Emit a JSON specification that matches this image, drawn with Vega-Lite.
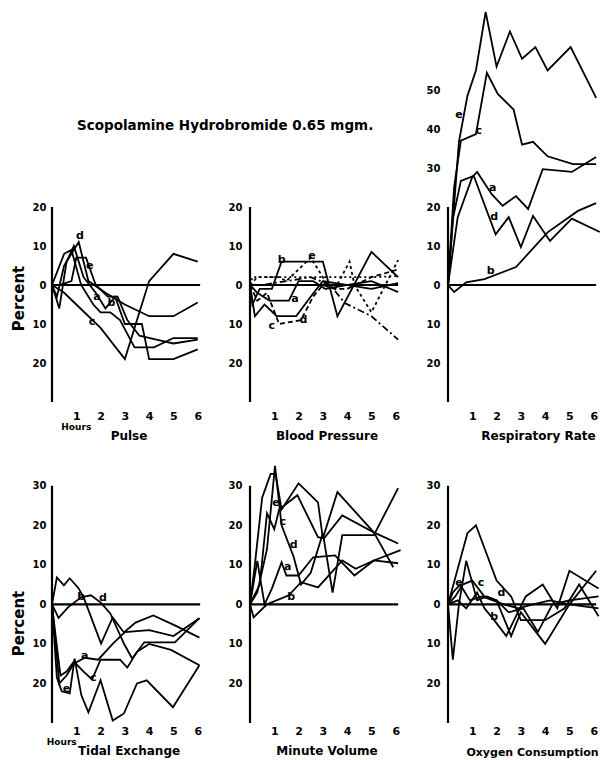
{
 "$schema": "https://vega.github.io/schema/vega-lite/v6.json",
 "background": "white",
 "padding": {"left": 11, "top": 8, "right": 2, "bottom": 2},
 "title": {"text": "Scopolamine Hydrobromide 0.65 mgm.", "anchor": "start", "offset": -124, "dx": 66, "fontSize": 13.5, "font": "DejaVu Sans", "fontWeight": "bold", "color": "black"},
 "config": {
  "view": {"stroke": null},
  "axis": {"labelFont": "DejaVu Sans", "titleFont": "DejaVu Sans", "labelColor": "black", "titleColor": "black", "labelFontWeight": "bold", "titleFontWeight": "bold", "ticks": false, "domain": false, "grid": false, "labelOverlap": false},
  "axisX": {"format": ".0f"},
  "text": {"font": "DejaVu Sans", "fontWeight": "bold", "color": "black"}
 },
 "datasets": {
  "lines": [
   {"panel":"Pulse","series":"a","hour":0,"value":0},{"panel":"Pulse","series":"a","hour":0.3,"value":-6},{"panel":"Pulse","series":"a","hour":0.6,"value":6},{"panel":"Pulse","series":"a","hour":0.9,"value":10},{"panel":"Pulse","series":"a","hour":1.3,"value":2},{"panel":"Pulse","series":"a","hour":1.8,"value":-2},{"panel":"Pulse","series":"a","hour":2.2,"value":-6},{"panel":"Pulse","series":"a","hour":2.6,"value":-3},{"panel":"Pulse","series":"a","hour":3,"value":-10},{"panel":"Pulse","series":"a","hour":3.7,"value":-10},{"panel":"Pulse","series":"a","hour":4,"value":-19},{"panel":"Pulse","series":"a","hour":5,"value":-19},{"panel":"Pulse","series":"a","hour":6,"value":-16.5},
   {"panel":"Pulse","series":"b","hour":0,"value":0},{"panel":"Pulse","series":"b","hour":0.5,"value":8},{"panel":"Pulse","series":"b","hour":0.8,"value":9},{"panel":"Pulse","series":"b","hour":1.2,"value":0},{"panel":"Pulse","series":"b","hour":1.7,"value":-5},{"panel":"Pulse","series":"b","hour":2,"value":-7},{"panel":"Pulse","series":"b","hour":2.4,"value":-7},{"panel":"Pulse","series":"b","hour":2.8,"value":-9},{"panel":"Pulse","series":"b","hour":3.4,"value":-16},{"panel":"Pulse","series":"b","hour":4.2,"value":-16},{"panel":"Pulse","series":"b","hour":5,"value":-13.6},{"panel":"Pulse","series":"b","hour":6,"value":-13.6},
   {"panel":"Pulse","series":"c","hour":0,"value":0},{"panel":"Pulse","series":"c","hour":0.5,"value":-2},{"panel":"Pulse","series":"c","hour":1,"value":-5},{"panel":"Pulse","series":"c","hour":2,"value":-11},{"panel":"Pulse","series":"c","hour":3,"value":-19},{"panel":"Pulse","series":"c","hour":4,"value":1},{"panel":"Pulse","series":"c","hour":5,"value":8},{"panel":"Pulse","series":"c","hour":6,"value":6},
   {"panel":"Pulse","series":"d","hour":0,"value":0},{"panel":"Pulse","series":"d","hour":0.2,"value":-3},{"panel":"Pulse","series":"d","hour":0.5,"value":5},{"panel":"Pulse","series":"d","hour":1.1,"value":11},{"panel":"Pulse","series":"d","hour":1.5,"value":1},{"panel":"Pulse","series":"d","hour":2.2,"value":-2},{"panel":"Pulse","series":"d","hour":3,"value":-5},{"panel":"Pulse","series":"d","hour":4,"value":-8},{"panel":"Pulse","series":"d","hour":5,"value":-8},{"panel":"Pulse","series":"d","hour":6,"value":-4.5},
   {"panel":"Pulse","series":"e","hour":0,"value":0},{"panel":"Pulse","series":"e","hour":0.3,"value":0},{"panel":"Pulse","series":"e","hour":0.8,"value":1},{"panel":"Pulse","series":"e","hour":1.0,"value":7},{"panel":"Pulse","series":"e","hour":1.4,"value":7},{"panel":"Pulse","series":"e","hour":1.8,"value":0},{"panel":"Pulse","series":"e","hour":2.3,"value":-3},{"panel":"Pulse","series":"e","hour":2.7,"value":-3},{"panel":"Pulse","series":"e","hour":3.1,"value":-9},{"panel":"Pulse","series":"e","hour":3.6,"value":-13},{"panel":"Pulse","series":"e","hour":4.3,"value":-14},{"panel":"Pulse","series":"e","hour":5,"value":-15},{"panel":"Pulse","series":"e","hour":6,"value":-14},

   {"panel":"BP","series":"a","hour":0,"value":0},{"panel":"BP","series":"a","hour":0.1,"value":-5},{"panel":"BP","series":"a","hour":0.4,"value":-1},{"panel":"BP","series":"a","hour":0.9,"value":-1},{"panel":"BP","series":"a","hour":1.3,"value":6},{"panel":"BP","series":"a","hour":2.0,"value":6},{"panel":"BP","series":"a","hour":3.0,"value":6},{"panel":"BP","series":"a","hour":3.6,"value":-8},{"panel":"BP","series":"a","hour":5.0,"value":8.5},{"panel":"BP","series":"a","hour":6.1,"value":2},
   {"panel":"BP","series":"b","hour":0,"value":0},{"panel":"BP","series":"b","hour":0.3,"value":-2},{"panel":"BP","series":"b","hour":0.8,"value":-4},{"panel":"BP","series":"b","hour":1.6,"value":-4},{"panel":"BP","series":"b","hour":2.0,"value":1},{"panel":"BP","series":"b","hour":2.6,"value":1},{"panel":"BP","series":"b","hour":3.1,"value":-1},{"panel":"BP","series":"b","hour":4.0,"value":0},{"panel":"BP","series":"b","hour":5.0,"value":-1},{"panel":"BP","series":"b","hour":6.1,"value":0.5},
   {"panel":"BP","series":"c","hour":0,"value":0},{"panel":"BP","series":"c","hour":0.2,"value":-8},{"panel":"BP","series":"c","hour":0.6,"value":-5},{"panel":"BP","series":"c","hour":1.1,"value":-8},{"panel":"BP","series":"c","hour":1.9,"value":-8},{"panel":"BP","series":"c","hour":2.5,"value":-3},{"panel":"BP","series":"c","hour":3.0,"value":1},{"panel":"BP","series":"c","hour":4.0,"value":0},{"panel":"BP","series":"c","hour":5.0,"value":1},{"panel":"BP","series":"c","hour":6.1,"value":-1.8},
   {"panel":"BP","series":"d","hour":0,"value":0},{"panel":"BP","series":"d","hour":0.3,"value":-4},{"panel":"BP","series":"d","hour":0.7,"value":-2},{"panel":"BP","series":"d","hour":1.2,"value":-10},{"panel":"BP","series":"d","hour":2.1,"value":-9},{"panel":"BP","series":"d","hour":2.6,"value":-3},{"panel":"BP","series":"d","hour":3.0,"value":0},{"panel":"BP","series":"d","hour":3.5,"value":-1},{"panel":"BP","series":"d","hour":4.0,"value":-1},{"panel":"BP","series":"d","hour":5.0,"value":2},{"panel":"BP","series":"d","hour":6.1,"value":4},
   {"panel":"BP","series":"e","hour":0,"value":0},{"panel":"BP","series":"e","hour":0.3,"value":2},{"panel":"BP","series":"e","hour":1.2,"value":2},{"panel":"BP","series":"e","hour":1.5,"value":1},{"panel":"BP","series":"e","hour":2.5,"value":7},{"panel":"BP","series":"e","hour":3.1,"value":1},{"panel":"BP","series":"e","hour":3.5,"value":-1},{"panel":"BP","series":"e","hour":4.1,"value":6},{"panel":"BP","series":"e","hour":4.3,"value":0},{"panel":"BP","series":"e","hour":5.0,"value":-7},{"panel":"BP","series":"e","hour":6.1,"value":6.4},
   {"panel":"BP","series":"f","hour":0,"value":0},{"panel":"BP","series":"f","hour":0.5,"value":0},{"panel":"BP","series":"f","hour":1.5,"value":1},{"panel":"BP","series":"f","hour":2.5,"value":2},{"panel":"BP","series":"f","hour":3.3,"value":0},{"panel":"BP","series":"f","hour":3.9,"value":-4.6},{"panel":"BP","series":"f","hour":5.0,"value":-8},{"panel":"BP","series":"f","hour":6.1,"value":-14},
   {"panel":"BP","series":"g","hour":0,"value":0},{"panel":"BP","series":"g","hour":0.1,"value":2},{"panel":"BP","series":"g","hour":1.0,"value":2},{"panel":"BP","series":"g","hour":2.0,"value":2},{"panel":"BP","series":"g","hour":3.0,"value":2},{"panel":"BP","series":"g","hour":4.0,"value":2},{"panel":"BP","series":"g","hour":5.0,"value":2},{"panel":"BP","series":"g","hour":6.1,"value":2.3},

   {"panel":"Resp","series":"e","hour":0,"value":0},{"panel":"Resp","series":"e","hour":0.45,"value":36.7},{"panel":"Resp","series":"e","hour":0.8,"value":48.5},{"panel":"Resp","series":"e","hour":1.15,"value":55},{"panel":"Resp","series":"e","hour":1.55,"value":70},{"panel":"Resp","series":"e","hour":2.0,"value":56},{"panel":"Resp","series":"e","hour":2.55,"value":65},{"panel":"Resp","series":"e","hour":3.05,"value":58},{"panel":"Resp","series":"e","hour":3.6,"value":61},{"panel":"Resp","series":"e","hour":4.1,"value":55},{"panel":"Resp","series":"e","hour":5.05,"value":61},{"panel":"Resp","series":"e","hour":6.1,"value":48},
   {"panel":"Resp","series":"c","hour":0,"value":0},{"panel":"Resp","series":"c","hour":0.25,"value":25},{"panel":"Resp","series":"c","hour":0.53,"value":37},{"panel":"Resp","series":"c","hour":1.15,"value":38.7},{"panel":"Resp","series":"c","hour":1.6,"value":54.4},{"panel":"Resp","series":"c","hour":2.05,"value":49},{"panel":"Resp","series":"c","hour":2.7,"value":45},{"panel":"Resp","series":"c","hour":3.05,"value":36},{"panel":"Resp","series":"c","hour":3.5,"value":36.7},{"panel":"Resp","series":"c","hour":4.1,"value":33},{"panel":"Resp","series":"c","hour":5.15,"value":31},{"panel":"Resp","series":"c","hour":6.1,"value":31},
   {"panel":"Resp","series":"a","hour":0,"value":0},{"panel":"Resp","series":"a","hour":0.4,"value":17.4},{"panel":"Resp","series":"a","hour":1.0,"value":27.7},{"panel":"Resp","series":"a","hour":1.2,"value":29},{"panel":"Resp","series":"a","hour":1.8,"value":23.3},{"panel":"Resp","series":"a","hour":2.25,"value":20.3},{"panel":"Resp","series":"a","hour":2.8,"value":22.8},{"panel":"Resp","series":"a","hour":3.3,"value":19.5},{"panel":"Resp","series":"a","hour":3.9,"value":29.7},{"panel":"Resp","series":"a","hour":5.1,"value":29},{"panel":"Resp","series":"a","hour":6.1,"value":32.8},
   {"panel":"Resp","series":"d","hour":0,"value":0},{"panel":"Resp","series":"d","hour":0.2,"value":17},{"panel":"Resp","series":"d","hour":0.53,"value":26.7},{"panel":"Resp","series":"d","hour":1.06,"value":28},{"panel":"Resp","series":"d","hour":1.96,"value":13},{"panel":"Resp","series":"d","hour":2.5,"value":17.4},{"panel":"Resp","series":"d","hour":3.0,"value":9.7},{"panel":"Resp","series":"d","hour":3.5,"value":17.7},{"panel":"Resp","series":"d","hour":4.2,"value":11.3},{"panel":"Resp","series":"d","hour":5.1,"value":17},{"panel":"Resp","series":"d","hour":6.25,"value":13.6},
   {"panel":"Resp","series":"b","hour":0,"value":0},{"panel":"Resp","series":"b","hour":0.25,"value":-1.8},{"panel":"Resp","series":"b","hour":0.75,"value":0.7},{"panel":"Resp","series":"b","hour":1.5,"value":1.5},{"panel":"Resp","series":"b","hour":2.8,"value":4.6},{"panel":"Resp","series":"b","hour":4.1,"value":13.5},{"panel":"Resp","series":"b","hour":5.35,"value":19},{"panel":"Resp","series":"b","hour":6.1,"value":21},

   {"panel":"Tidal","series":"a","hour":0,"value":0},{"panel":"Tidal","series":"a","hour":0.3,"value":-20},{"panel":"Tidal","series":"a","hour":0.6,"value":-18},{"panel":"Tidal","series":"a","hour":0.9,"value":-15},{"panel":"Tidal","series":"a","hour":1.35,"value":-13.5},{"panel":"Tidal","series":"a","hour":1.9,"value":-14},{"panel":"Tidal","series":"a","hour":2.5,"value":-10},{"panel":"Tidal","series":"a","hour":3.0,"value":-7},{"panel":"Tidal","series":"a","hour":4.0,"value":-6.5},{"panel":"Tidal","series":"a","hour":5.0,"value":-8},{"panel":"Tidal","series":"a","hour":6.07,"value":-3.5},
   {"panel":"Tidal","series":"b","hour":0,"value":0},{"panel":"Tidal","series":"b","hour":0.2,"value":6.8},{"panel":"Tidal","series":"b","hour":0.49,"value":4.8},{"panel":"Tidal","series":"b","hour":0.73,"value":6.6},{"panel":"Tidal","series":"b","hour":1.09,"value":4.1},{"panel":"Tidal","series":"b","hour":1.3,"value":1.8},{"panel":"Tidal","series":"b","hour":2.02,"value":-9.9},{"panel":"Tidal","series":"b","hour":2.5,"value":-3.3},{"panel":"Tidal","series":"b","hour":2.96,"value":-7.1},{"panel":"Tidal","series":"b","hour":3.44,"value":-4.6},{"panel":"Tidal","series":"b","hour":4.17,"value":-2.8},{"panel":"Tidal","series":"b","hour":5.06,"value":-5.3},{"panel":"Tidal","series":"b","hour":6.07,"value":-8.4},
   {"panel":"Tidal","series":"c","hour":0,"value":0},{"panel":"Tidal","series":"c","hour":0.15,"value":-8},{"panel":"Tidal","series":"c","hour":0.35,"value":-18},{"panel":"Tidal","series":"c","hour":0.6,"value":-17},{"panel":"Tidal","series":"c","hour":0.9,"value":-14.5},{"panel":"Tidal","series":"c","hour":1.3,"value":-17},{"panel":"Tidal","series":"c","hour":1.65,"value":-19},{"panel":"Tidal","series":"c","hour":2.0,"value":-14},{"panel":"Tidal","series":"c","hour":2.8,"value":-14},{"panel":"Tidal","series":"c","hour":3.1,"value":-16},{"panel":"Tidal","series":"c","hour":3.5,"value":-12},{"panel":"Tidal","series":"c","hour":4.0,"value":-10},{"panel":"Tidal","series":"c","hour":4.9,"value":-11.5},{"panel":"Tidal","series":"c","hour":6.07,"value":-15.4},
   {"panel":"Tidal","series":"d","hour":0,"value":0},{"panel":"Tidal","series":"d","hour":0.27,"value":-3.4},{"panel":"Tidal","series":"d","hour":0.67,"value":-0.7},{"panel":"Tidal","series":"d","hour":1.2,"value":1.8},{"panel":"Tidal","series":"d","hour":1.6,"value":2.3},{"panel":"Tidal","series":"d","hour":2.0,"value":0.5},{"panel":"Tidal","series":"d","hour":2.4,"value":-2.3},{"panel":"Tidal","series":"d","hour":2.96,"value":-9.9},{"panel":"Tidal","series":"d","hour":3.3,"value":-13.7},{"panel":"Tidal","series":"d","hour":3.8,"value":-9.6},{"panel":"Tidal","series":"d","hour":5.06,"value":-9.6},{"panel":"Tidal","series":"d","hour":6.07,"value":-3.5},
   {"panel":"Tidal","series":"e","hour":0,"value":0},{"panel":"Tidal","series":"e","hour":0.2,"value":-18.5},{"panel":"Tidal","series":"e","hour":0.4,"value":-22},{"panel":"Tidal","series":"e","hour":0.73,"value":-22.5},{"panel":"Tidal","series":"e","hour":0.93,"value":-13.7},{"panel":"Tidal","series":"e","hour":1.21,"value":-23},{"panel":"Tidal","series":"e","hour":1.5,"value":-27.3},{"panel":"Tidal","series":"e","hour":2.0,"value":-19.2},{"panel":"Tidal","series":"e","hour":2.5,"value":-29.4},{"panel":"Tidal","series":"e","hour":2.96,"value":-27.6},{"panel":"Tidal","series":"e","hour":3.5,"value":-20},{"panel":"Tidal","series":"e","hour":3.9,"value":-19.2},{"panel":"Tidal","series":"e","hour":4.98,"value":-26},{"panel":"Tidal","series":"e","hour":6.07,"value":-15.4},

   {"panel":"MV","series":"e","hour":0,"value":0},{"panel":"MV","series":"e","hour":0.2,"value":10},{"panel":"MV","series":"e","hour":0.5,"value":27},{"panel":"MV","series":"e","hour":0.85,"value":33},{"panel":"MV","series":"e","hour":1.05,"value":33},{"panel":"MV","series":"e","hour":1.3,"value":24},{"panel":"MV","series":"e","hour":2.0,"value":30.6},{"panel":"MV","series":"e","hour":2.8,"value":25.8},{"panel":"MV","series":"e","hour":3.0,"value":16.7},{"panel":"MV","series":"e","hour":3.6,"value":28.4},{"panel":"MV","series":"e","hour":5.1,"value":18.2},{"panel":"MV","series":"e","hour":6.1,"value":15.4},
   {"panel":"MV","series":"c","hour":0,"value":0},{"panel":"MV","series":"c","hour":0.4,"value":5},{"panel":"MV","series":"c","hour":0.7,"value":23},{"panel":"MV","series":"c","hour":1.0,"value":19},{"panel":"MV","series":"c","hour":1.2,"value":24},{"panel":"MV","series":"c","hour":1.95,"value":27.6},{"panel":"MV","series":"c","hour":2.8,"value":17},{"panel":"MV","series":"c","hour":3.05,"value":16.7},{"panel":"MV","series":"c","hour":3.8,"value":22.5},{"panel":"MV","series":"c","hour":5.1,"value":18.2},{"panel":"MV","series":"c","hour":5.9,"value":9.4},
   {"panel":"MV","series":"d","hour":0,"value":0},{"panel":"MV","series":"d","hour":0.3,"value":3},{"panel":"MV","series":"d","hour":0.7,"value":14},{"panel":"MV","series":"d","hour":1.03,"value":35},{"panel":"MV","series":"d","hour":1.3,"value":20},{"panel":"MV","series":"d","hour":1.8,"value":12},{"panel":"MV","series":"d","hour":2.1,"value":5},{"panel":"MV","series":"d","hour":2.5,"value":8},{"panel":"MV","series":"d","hour":3.0,"value":18},{"panel":"MV","series":"d","hour":3.4,"value":3},{"panel":"MV","series":"d","hour":3.8,"value":17.5},{"panel":"MV","series":"d","hour":5.1,"value":17.5},{"panel":"MV","series":"d","hour":6.1,"value":29.4},
   {"panel":"MV","series":"a","hour":0,"value":0},{"panel":"MV","series":"a","hour":0.3,"value":11},{"panel":"MV","series":"a","hour":0.6,"value":0},{"panel":"MV","series":"a","hour":0.9,"value":4},{"panel":"MV","series":"a","hour":1.3,"value":10.6},{"panel":"MV","series":"a","hour":1.5,"value":7.3},{"panel":"MV","series":"a","hour":2.0,"value":7.3},{"panel":"MV","series":"a","hour":2.6,"value":11.9},{"panel":"MV","series":"a","hour":3.5,"value":12.4},{"panel":"MV","series":"a","hour":4.3,"value":7.3},{"panel":"MV","series":"a","hour":5.1,"value":11.1},{"panel":"MV","series":"a","hour":6.1,"value":10.4},
   {"panel":"MV","series":"b","hour":0,"value":0},{"panel":"MV","series":"b","hour":0.15,"value":-3.3},{"panel":"MV","series":"b","hour":0.7,"value":0},{"panel":"MV","series":"b","hour":1.6,"value":2.3},{"panel":"MV","series":"b","hour":2.1,"value":5.6},{"panel":"MV","series":"b","hour":2.8,"value":4.3},{"panel":"MV","series":"b","hour":3.8,"value":11.1},{"panel":"MV","series":"b","hour":4.35,"value":9},{"panel":"MV","series":"b","hour":5.1,"value":11.1},{"panel":"MV","series":"b","hour":6.2,"value":13.7},

   {"panel":"O2","series":"a","hour":0,"value":0},{"panel":"O2","series":"a","hour":0.2,"value":-14},{"panel":"O2","series":"a","hour":0.45,"value":0},{"panel":"O2","series":"a","hour":0.75,"value":11},{"panel":"O2","series":"a","hour":1.2,"value":1},{"panel":"O2","series":"a","hour":1.6,"value":2},{"panel":"O2","series":"a","hour":2.0,"value":1},{"panel":"O2","series":"a","hour":2.6,"value":-8},{"panel":"O2","series":"a","hour":3.0,"value":-2},{"panel":"O2","series":"a","hour":3.5,"value":-6},{"panel":"O2","series":"a","hour":4.0,"value":-10},{"panel":"O2","series":"a","hour":5.0,"value":0},{"panel":"O2","series":"a","hour":6.1,"value":8.5},
   {"panel":"O2","series":"b","hour":0,"value":0},{"panel":"O2","series":"b","hour":0.4,"value":1},{"panel":"O2","series":"b","hour":0.75,"value":-1},{"panel":"O2","series":"b","hour":1.2,"value":3},{"panel":"O2","series":"b","hour":1.5,"value":-1},{"panel":"O2","series":"b","hour":1.9,"value":-4},{"panel":"O2","series":"b","hour":2.4,"value":-8},{"panel":"O2","series":"b","hour":3.2,"value":2},{"panel":"O2","series":"b","hour":3.9,"value":5},{"panel":"O2","series":"b","hour":4.5,"value":-1},{"panel":"O2","series":"b","hour":5.0,"value":8.5},{"panel":"O2","series":"b","hour":6.2,"value":4},
   {"panel":"O2","series":"c","hour":0,"value":0},{"panel":"O2","series":"c","hour":0.8,"value":18},{"panel":"O2","series":"c","hour":1.15,"value":20},{"panel":"O2","series":"c","hour":2.0,"value":6},{"panel":"O2","series":"c","hour":2.6,"value":2},{"panel":"O2","series":"c","hour":3.0,"value":-4},{"panel":"O2","series":"c","hour":4.0,"value":-4},{"panel":"O2","series":"c","hour":4.8,"value":-1},{"panel":"O2","series":"c","hour":5.4,"value":5},{"panel":"O2","series":"c","hour":6.2,"value":-3},
   {"panel":"O2","series":"d","hour":0,"value":0},{"panel":"O2","series":"d","hour":0.3,"value":2},{"panel":"O2","series":"d","hour":0.6,"value":5},{"panel":"O2","series":"d","hour":1.0,"value":6},{"panel":"O2","series":"d","hour":1.5,"value":2},{"panel":"O2","series":"d","hour":2.0,"value":1},{"panel":"O2","series":"d","hour":2.5,"value":-2},{"panel":"O2","series":"d","hour":3.1,"value":-1},{"panel":"O2","series":"d","hour":3.7,"value":-7},{"panel":"O2","series":"d","hour":4.3,"value":0},{"panel":"O2","series":"d","hour":5.0,"value":1},{"panel":"O2","series":"d","hour":6.2,"value":2},
   {"panel":"O2","series":"e","hour":0,"value":0},{"panel":"O2","series":"e","hour":0.2,"value":3},{"panel":"O2","series":"e","hour":0.5,"value":5},{"panel":"O2","series":"e","hour":0.9,"value":1},{"panel":"O2","series":"e","hour":1.4,"value":2},{"panel":"O2","series":"e","hour":2.3,"value":0},{"panel":"O2","series":"e","hour":2.9,"value":-1},{"panel":"O2","series":"e","hour":3.5,"value":0},{"panel":"O2","series":"e","hour":4.2,"value":1},{"panel":"O2","series":"e","hour":5.0,"value":0},{"panel":"O2","series":"e","hour":6.2,"value":-1}
  ],
  "labels": [
   {"panel":"Pulse","label":"d","hour":1.15,"value":12.5},{"panel":"Pulse","label":"e","hour":1.55,"value":5},{"panel":"Pulse","label":"a","hour":1.85,"value":-3},{"panel":"Pulse","label":"b","hour":2.45,"value":-4.5},{"panel":"Pulse","label":"c","hour":1.65,"value":-9.5},
   {"panel":"BP","label":"b","hour":1.3,"value":6.5},{"panel":"BP","label":"e","hour":2.55,"value":7.5},{"panel":"BP","label":"a","hour":1.85,"value":-3.5},{"panel":"BP","label":"d","hour":2.2,"value":-9},{"panel":"BP","label":"c","hour":0.9,"value":-10.5},
   {"panel":"Resp","label":"e","hour":0.45,"value":43.5},{"panel":"Resp","label":"c","hour":1.27,"value":39.5},{"panel":"Resp","label":"a","hour":1.84,"value":25},{"panel":"Resp","label":"d","hour":1.9,"value":17.4},{"panel":"Resp","label":"b","hour":1.76,"value":3.6},
   {"panel":"Tidal","label":"e","hour":0.6,"value":-21.5},{"panel":"Tidal","label":"c","hour":1.7,"value":-18.7},{"panel":"Tidal","label":"a","hour":1.35,"value":-13},{"panel":"Tidal","label":"d","hour":2.1,"value":1.5},{"panel":"Tidal","label":"b","hour":1.2,"value":1.8},
   {"panel":"MV","label":"e","hour":1.07,"value":25.6},{"panel":"MV","label":"c","hour":1.35,"value":20.8},{"panel":"MV","label":"d","hour":1.8,"value":15},{"panel":"MV","label":"a","hour":1.55,"value":9.4},{"panel":"MV","label":"b","hour":1.7,"value":1.8},
   {"panel":"O2","label":"e","hour":0.45,"value":5.3},{"panel":"O2","label":"c","hour":1.36,"value":5.3},{"panel":"O2","label":"d","hour":2.2,"value":3},{"panel":"O2","label":"b","hour":1.9,"value":-3.3}
  ]
 },
 "concat": [
    {
     "width": 153, "height": 390,
     "layer": [
      {"data": {"name": "lines"}, "transform": [{"filter": "datum.panel === 'Pulse'"}],
       "mark": {"type": "line", "color": "black", "strokeWidth": 1.8},
       "encoding": {
        "x": {"field": "hour", "type": "quantitative", "scale": {"domain": [0, 6.3], "nice": false}, "axis": {"values": [1,2,3,4,5,6], "tickCount": 12, "format": ".0f", "labelFontSize": 11, "labelPadding": 8, "title": "Pulse", "titleFontSize": 12, "titlePadding": 9}},
        "y": {"field": "value", "type": "quantitative", "scale": {"domain": [-30, 70], "nice": false}, "axis": {"values": [20,10,0,-10,-20], "labelExpr": "'' + abs(datum.value)", "labelFontSize": 10, "labelPadding": 6, "title": "Percent", "titleFontSize": 15, "titleX": -26, "titleY": 286, "titleBaseline": "bottom", "titleAlign": "center"}},
        "detail": {"field": "series"}
       }},
      {"data": {"values": [{}]}, "mark": {"type": "rule", "color": "black", "strokeWidth": 2.2}, "encoding": {"x": {"datum": 0, "type": "quantitative"}, "y": {"datum": -30, "type": "quantitative"}, "y2": {"datum": 20}}},
      {"data": {"values": [{}]}, "mark": {"type": "rule", "color": "black", "strokeWidth": 2.2}, "encoding": {"x": {"datum": 0, "type": "quantitative"}, "x2": {"datum": 6.1}, "y": {"datum": 0, "type": "quantitative"}}},
      {"data": {"name": "labels"}, "transform": [{"filter": "datum.panel === 'Pulse'"}], "mark": {"type": "text", "fontSize": 11}, "encoding": {"x": {"field": "hour", "type": "quantitative"}, "y": {"field": "value", "type": "quantitative"}, "text": {"field": "label"}}},
      {"data": {"values": [{}]}, "mark": {"type": "text", "fontSize": 9, "dy": 25, "text": "Hours"}, "encoding": {"x": {"datum": 1, "type": "quantitative"}, "y": {"datum": -30, "type": "quantitative"}}}
     ]
    },
    {
     "width": 153, "height": 390,
     "layer": [
      {"data": {"name": "lines"}, "transform": [{"filter": "datum.panel === 'BP'"}],
       "mark": {"type": "line", "color": "black", "strokeWidth": 1.8},
       "encoding": {
        "x": {"field": "hour", "type": "quantitative", "scale": {"domain": [0, 6.3], "nice": false}, "axis": {"values": [1,2,3,4,5,6], "tickCount": 12, "format": ".0f", "labelFontSize": 11, "labelPadding": 8, "title": "Blood Pressure", "titleFontSize": 12, "titlePadding": 9}},
        "y": {"field": "value", "type": "quantitative", "scale": {"domain": [-30, 70], "nice": false}, "axis": {"values": [20,10,0,-10,-20], "labelExpr": "'' + abs(datum.value)", "labelFontSize": 10, "labelPadding": 8, "title": null}},
        "detail": {"field": "series"},
        "strokeDash": {"field": "series", "type": "nominal", "scale": {"domain": ["a","b","c","d","e","f","g"], "range": [[1,0],[1,0],[1,0],[5,3],[3,3],[7,3,2,3],[2,3]]}, "legend": null}
       }},
      {"data": {"values": [{}]}, "mark": {"type": "rule", "color": "black", "strokeWidth": 2.2}, "encoding": {"x": {"datum": 0, "type": "quantitative"}, "y": {"datum": -30, "type": "quantitative"}, "y2": {"datum": 20}}},
      {"data": {"values": [{}]}, "mark": {"type": "rule", "color": "black", "strokeWidth": 2.2}, "encoding": {"x": {"datum": 0, "type": "quantitative"}, "x2": {"datum": 6.1}, "y": {"datum": 0, "type": "quantitative"}}},
      {"data": {"name": "labels"}, "transform": [{"filter": "datum.panel === 'BP'"}], "mark": {"type": "text", "fontSize": 11}, "encoding": {"x": {"field": "hour", "type": "quantitative"}, "y": {"field": "value", "type": "quantitative"}, "text": {"field": "label"}}}
     ]
    },
    {
     "width": 153, "height": 390,
     "layer": [
      {"data": {"name": "lines"}, "transform": [{"filter": "datum.panel === 'Resp'"}],
       "mark": {"type": "line", "color": "black", "strokeWidth": 1.8},
       "encoding": {
        "x": {"field": "hour", "type": "quantitative", "scale": {"domain": [0, 6.3], "nice": false}, "axis": {"values": [1,2,3,4,5,6], "tickCount": 12, "format": ".0f", "labelFontSize": 11, "labelPadding": 8, "title": "Respiratory Rate", "titleFontSize": 12, "titlePadding": 9, "titleX": 90}},
        "y": {"field": "value", "type": "quantitative", "scale": {"domain": [-30, 70], "nice": false}, "axis": {"values": [50,40,30,20,10,0,-10,-20], "labelExpr": "'' + abs(datum.value)", "labelFontSize": 10, "labelPadding": 8, "title": null}},
        "detail": {"field": "series"}
       }},
      {"data": {"values": [{}]}, "mark": {"type": "rule", "color": "black", "strokeWidth": 2.2}, "encoding": {"x": {"datum": 0, "type": "quantitative"}, "y": {"datum": -30, "type": "quantitative"}, "y2": {"datum": 20}}},
      {"data": {"values": [{}]}, "mark": {"type": "rule", "color": "black", "strokeWidth": 2.2}, "encoding": {"x": {"datum": 0, "type": "quantitative"}, "x2": {"datum": 6.1}, "y": {"datum": 0, "type": "quantitative"}}},
      {"data": {"name": "labels"}, "transform": [{"filter": "datum.panel === 'Resp'"}], "mark": {"type": "text", "fontSize": 11}, "encoding": {"x": {"field": "hour", "type": "quantitative"}, "y": {"field": "value", "type": "quantitative"}, "text": {"field": "label"}}}
     ]
    },
    {
     "width": 153, "height": 261,
     "layer": [
      {"data": {"name": "lines"}, "transform": [{"filter": "datum.panel === 'Tidal'"}],
       "mark": {"type": "line", "color": "black", "strokeWidth": 1.8},
       "encoding": {
        "x": {"field": "hour", "type": "quantitative", "scale": {"domain": [0, 6.3], "nice": false}, "axis": {"values": [1,2,3,4,5,6], "tickCount": 12, "format": ".0f", "labelFontSize": 11, "labelPadding": 2, "title": "Tidal Exchange", "titleFontSize": 12, "titlePadding": 9}},
        "y": {"field": "value", "type": "quantitative", "scale": {"domain": [-30, 36], "nice": false}, "axis": {"values": [30,20,10,0,-10,-20], "labelExpr": "'' + abs(datum.value)", "labelFontSize": 10, "labelPadding": 6, "title": "Percent", "titleFontSize": 15, "titleX": -26, "titleY": 161, "titleBaseline": "bottom", "titleAlign": "center"}},
        "detail": {"field": "series"}
       }},
      {"data": {"values": [{}]}, "mark": {"type": "rule", "color": "black", "strokeWidth": 2.2}, "encoding": {"x": {"datum": 0, "type": "quantitative"}, "y": {"datum": -30, "type": "quantitative"}, "y2": {"datum": 30}}},
      {"data": {"values": [{}]}, "mark": {"type": "rule", "color": "black", "strokeWidth": 2.2}, "encoding": {"x": {"datum": 0, "type": "quantitative"}, "x2": {"datum": 6.1}, "y": {"datum": 0, "type": "quantitative"}}},
      {"data": {"name": "labels"}, "transform": [{"filter": "datum.panel === 'Tidal'"}], "mark": {"type": "text", "fontSize": 11}, "encoding": {"x": {"field": "hour", "type": "quantitative"}, "y": {"field": "value", "type": "quantitative"}, "text": {"field": "label"}}},
      {"data": {"values": [{}]}, "mark": {"type": "text", "fontSize": 9, "dy": 19, "text": "Hours"}, "encoding": {"x": {"datum": 0.4, "type": "quantitative"}, "y": {"datum": -30, "type": "quantitative"}}}
     ]
    },
    {
     "width": 153, "height": 261,
     "layer": [
      {"data": {"name": "lines"}, "transform": [{"filter": "datum.panel === 'MV'"}],
       "mark": {"type": "line", "color": "black", "strokeWidth": 1.8},
       "encoding": {
        "x": {"field": "hour", "type": "quantitative", "scale": {"domain": [0, 6.3], "nice": false}, "axis": {"values": [1,2,3,4,5,6], "tickCount": 12, "format": ".0f", "labelFontSize": 11, "labelPadding": 2, "title": "Minute Volume", "titleFontSize": 12, "titlePadding": 9}},
        "y": {"field": "value", "type": "quantitative", "scale": {"domain": [-30, 36], "nice": false}, "axis": {"values": [30,20,10,0,-10,-20], "labelExpr": "'' + abs(datum.value)", "labelFontSize": 10, "labelPadding": 8, "title": null}},
        "detail": {"field": "series"}
       }},
      {"data": {"values": [{}]}, "mark": {"type": "rule", "color": "black", "strokeWidth": 2.2}, "encoding": {"x": {"datum": 0, "type": "quantitative"}, "y": {"datum": -30, "type": "quantitative"}, "y2": {"datum": 30}}},
      {"data": {"values": [{}]}, "mark": {"type": "rule", "color": "black", "strokeWidth": 2.2}, "encoding": {"x": {"datum": 0, "type": "quantitative"}, "x2": {"datum": 6.1}, "y": {"datum": 0, "type": "quantitative"}}},
      {"data": {"name": "labels"}, "transform": [{"filter": "datum.panel === 'MV'"}], "mark": {"type": "text", "fontSize": 11}, "encoding": {"x": {"field": "hour", "type": "quantitative"}, "y": {"field": "value", "type": "quantitative"}, "text": {"field": "label"}}}
     ]
    },
    {
     "width": 153, "height": 261,
     "layer": [
      {"data": {"name": "lines"}, "transform": [{"filter": "datum.panel === 'O2'"}],
       "mark": {"type": "line", "color": "black", "strokeWidth": 1.8},
       "encoding": {
        "x": {"field": "hour", "type": "quantitative", "scale": {"domain": [0, 6.3], "nice": false}, "axis": {"values": [1,2,3,4,5,6], "tickCount": 12, "format": ".0f", "labelFontSize": 11, "labelPadding": 2, "title": "Oxygen Consumption", "titleFontSize": 11, "titlePadding": 10, "titleX": 84}},
        "y": {"field": "value", "type": "quantitative", "scale": {"domain": [-30, 36], "nice": false}, "axis": {"values": [30,20,10,0,-10,-20], "labelExpr": "'' + abs(datum.value)", "labelFontSize": 10, "labelPadding": 8, "title": null}},
        "detail": {"field": "series"}
       }},
      {"data": {"values": [{}]}, "mark": {"type": "rule", "color": "black", "strokeWidth": 2.2}, "encoding": {"x": {"datum": 0, "type": "quantitative"}, "y": {"datum": -30, "type": "quantitative"}, "y2": {"datum": 30}}},
      {"data": {"values": [{}]}, "mark": {"type": "rule", "color": "black", "strokeWidth": 2.2}, "encoding": {"x": {"datum": 0, "type": "quantitative"}, "x2": {"datum": 6.1}, "y": {"datum": 0, "type": "quantitative"}}},
      {"data": {"name": "labels"}, "transform": [{"filter": "datum.panel === 'O2'"}], "mark": {"type": "text", "fontSize": 11}, "encoding": {"x": {"field": "hour", "type": "quantitative"}, "y": {"field": "value", "type": "quantitative"}, "text": {"field": "label"}}}
     ]
    }
 ],
 "columns": 3,
 "spacing": {"row": 60, "column": 45},
 "bounds": "flush"
}
